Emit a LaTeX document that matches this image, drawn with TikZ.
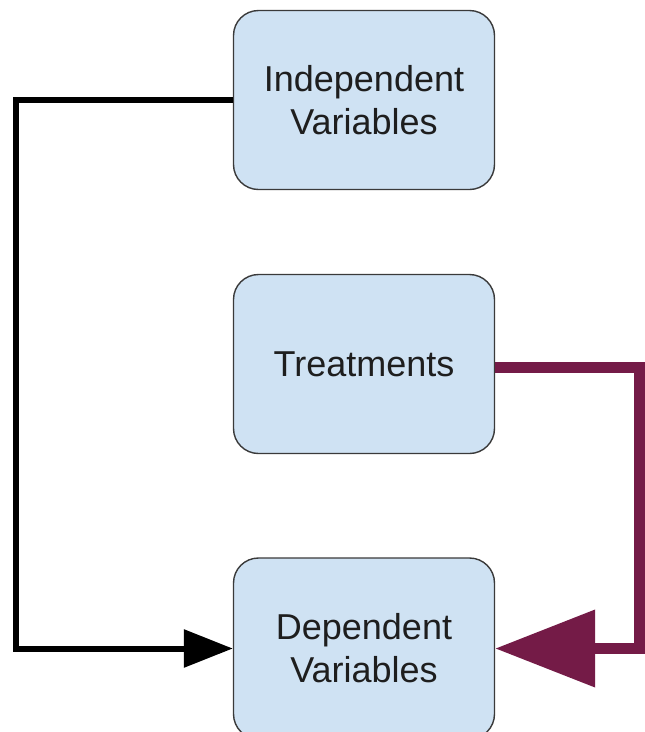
\documentclass[tikz,border=0pt]{standalone}
\usepackage{fontspec}
\setmainfont{Liberation Sans}
\usetikzlibrary{arrows.meta}
\definecolor{boxfill}{HTML}{CFE2F3}
\definecolor{boxline}{HTML}{3A3A3A}
\definecolor{plum}{HTML}{741B47}
\definecolor{txt}{HTML}{1E1E1E}
\begin{document}
\begin{tikzpicture}[x=1pt,y=1pt,
  varbox/.style={draw=boxline, line width=1.4pt, fill=boxfill, rounded corners=25pt,
    minimum width=261pt, minimum height=179pt, align=center, text=txt,
    font=\fontsize{36}{43}\selectfont, inner sep=0pt},
  blackconn/.style={draw=black, line width=6pt, line join=miter,
    -{Triangle[length=49pt,width=37pt]}},
  plumconn/.style={draw=plum, line width=11pt, line join=miter,
    -{Triangle[length=100pt,width=75pt]}}
]
\useasboundingbox (0,0) rectangle (645,-732);
\node[varbox] (iv) at (364,-100) {Independent\\Variables};
\node[varbox] (tr) at (364,-364) {Treatments};
\node[varbox, minimum height=181pt] (dv) at (364,-648.5) {Dependent\\Variables};
\coordinate (c1) at (16,-100);
\coordinate (c2) at (639,-367);
\draw[blackconn] (iv.west) -- (c1) |- (dv.west);
\draw[plumconn] (tr.east |- c2) -- (c2) |- (dv.east);
\end{tikzpicture}
\end{document}
